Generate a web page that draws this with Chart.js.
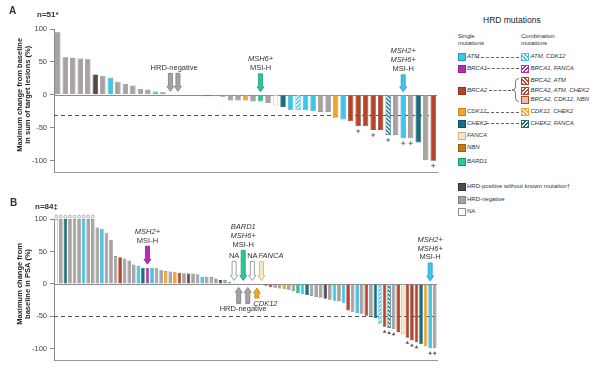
<!DOCTYPE html>
<html>
<head>
<meta charset="utf-8">
<script src="https://cdn.jsdelivr.net/npm/chart.js@4.4.0/dist/chart.umd.min.js"></script>
<style>
body{margin:0;background:#fff;font-family:'Liberation Sans',Arial,sans-serif;color:#333;}
#wrap{position:relative;width:605px;height:369px;overflow:hidden;}
canvas{position:absolute;left:0;}
.t{position:absolute;white-space:nowrap;line-height:1;}
.sw{position:absolute;width:6px;height:6px;border:0.8px solid #777;box-sizing:content-box;}
.dash{position:absolute;height:0;border-top:1px dashed #666;}
</style>
</head>
<body>
<div id="wrap">
  <canvas id="chartA" width="445" height="180" style="top:0"></canvas>
  <canvas id="chartB" width="445" height="178" style="top:190px"></canvas>
  <div class="t" style="left:9px;top:6px;font-weight:bold;font-size:10px">A</div>
  <div class="t" style="left:37px;top:11px;font-weight:bold;font-size:8px">n=51*</div>
  <div class="t" style="left:10px;top:198px;font-weight:bold;font-size:10px">B</div>
  <div class="t" style="left:35px;top:203px;font-weight:bold;font-size:8px">n=84‡</div>
  <div id="legend"></div>
</div>
<script>
// Panel A: maximum change in sum of target lesions (%)
var aValues = [95, 57, 56, 55, 54, 31, 29, 26, 20, 17,
  14, 9, 8, 5, 4, 0, 0, -1, -1.5, -2,
  -2, -2, -3, -8.5, -8.5, -8.5, -10, -10, -12.5, -16,
  -18.5, -22.5, -23, -23.5, -25, -26, -26, -35, -37.5, -40,
  -47.5, -47.5, -53.5, -53.5, -61, -61, -66, -66, -72.5, -99.5,
  -100];
var aTypes = ['neg', 'neg', 'neg', 'neg', 'neg', 'pos', 'neg', 'ATM', 'neg', 'neg',
  'neg', 'neg', 'neg', 'ATM', 'neg', 'neg', 'neg', 'pos', 'BRCA2', 'BARD1',
  'BRCA2', 'ATM', 'ATM', 'neg', 'neg', 'CDK12', 'neg', 'BARD1', 'neg', 'NA',
  'CHEK2', 'ATM', 'ATM+CDK12', 'ATM', 'ATM', 'neg', 'neg', 'CDK12', 'ATM', 'BRCA2',
  'BRCA2', 'BRCA2', 'BRCA2', 'BRCA2', 'CHEK2+FANCA', 'neg', 'ATM', 'neg', 'CHEK2', 'neg',
  'BRCA2'];
var aPlus = [40, 42, 44, 46, 47, 50];

// Panel B: maximum change in PSA (%)
var bValues = [100, 100, 100, 100, 100, 100, 100, 100, 100, 87,
  85, 79, 68, 43, 41, 39, 36, 30, 28, 25,
  25, 25, 24, 21, 20, 19, 18, 17, 16.5, 16,
  16, 15, 11, 11, 10.5, 8.5, 6, 6, 3, 0,
  0, 0, 0, 0, -1, -0.5, -3, -5, -6, -7,
  -8, -9, -11, -14, -16, -17, -18.5, -20, -21.5, -23,
  -24.5, -26, -27, -29, -41, -43, -45, -46, -49, -50,
  -53, -62, -66, -68, -70, -74, -77, -83, -87, -90,
  -93, -96, -99, -99];
var bTypes = ['NA', 'neg', 'CHEK2', 'neg', 'neg', 'neg', 'ATM', 'neg', 'neg', 'neg',
  'ATM', 'neg', 'neg', 'neg', 'BRCA2', 'neg', 'neg', 'neg', 'ATM', 'CHEK2',
  'BRCA1', 'ATM', 'neg', 'neg', 'CDK12', 'neg', 'CDK12', 'BRCA2', 'neg', 'pos',
  'neg', 'neg', 'ATM', 'neg', 'neg', 'neg', 'pos', 'neg', 'ATM', 'NA',
  'neg', 'BARD1', 'neg', 'NA', 'CDK12', 'FANCA', 'BRCA2', 'BRCA2', 'neg', 'neg',
  'CDK12', 'neg', 'neg', 'BARD1', 'ATM', 'CHEK2', 'neg', 'neg', 'neg', 'pos',
  'neg', 'ATM', 'neg', 'ATM', 'BRCA2', 'neg', 'ATM', 'neg', 'BRCA2', 'neg',
  'CHEK2', 'ATM+CDK12', 'BRCA2', 'CHEK2+FANCA', 'neg', 'BRCA2', 'FANCA', 'BRCA2', 'BRCA2', 'BRCA2',
  'CHEK2', 'CDK12', 'ATM', 'neg'];
var bTriangles = [72, 73, 74, 77, 78, 79, 82, 83];
var bCapped = [0, 1, 2, 3, 4, 5, 6, 7, 8];

var yTicks = [100, 50, 0, -50, -100];

var FONT = "'Liberation Sans', Arial, sans-serif";

// fill / edge colours
var palette = {
  ATM: ['#3dc6e9', '#2a9cbf'],
  BRCA1: ['#b62fb3', '#8d2089'],
  BRCA2: ['#b5442b', '#8e3320'],
  CDK12: ['#f3a528', '#c98414'],
  CHEK2: ['#17707f', '#0f5361'],
  FANCA: ['#f8e5c4', '#c9b48f'],
  NBN: ['#c27d15', '#98600e'],
  BARD1: ['#2bc79b', '#1a9a76'],
  pos: ['#4f4a4c', '#3a3637'],
  neg: ['#a8a2a3', '#827c7d'],
  NA: ['#ffffff', '#8c8c8c'],
  'BRCA2+CDK12+NBN': ['#e8bdb2', '#b5442b']
};
var hatchDefs = {
  'ATM+CDK12': ['#3dc6e9', 1],
  'BRCA1+FANCA': ['#b62fb3', -1],
  'BRCA2+ATM': ['#b5442b', 1],
  'BRCA2+ATM+CHEK2': ['#b5442b', -1],
  'CDK12+CHEK2': ['#f3a528', 1],
  'CHEK2+FANCA': ['#17707f', -1]
};

function hatch(color, dir) {
  var c = document.createElement('canvas');
  c.width = c.height = 4;
  var g = c.getContext('2d');
  g.fillStyle = '#fff';
  g.fillRect(0, 0, 4, 4);
  g.strokeStyle = color;
  g.lineWidth = 1.4;
  g.beginPath();
  if (dir > 0) {
    g.moveTo(0, 4); g.lineTo(4, 0);
    g.moveTo(-1, 1); g.lineTo(1, -1);
    g.moveTo(3, 5); g.lineTo(5, 3);
  } else {
    g.moveTo(0, 0); g.lineTo(4, 4);
    g.moveTo(-1, 3); g.lineTo(1, 5);
    g.moveTo(3, -1); g.lineTo(5, 1);
  }
  g.stroke();
  return g.createPattern(c, 'repeat');
}

function fillFor(k) {
  if (hatchDefs[k]) return hatch(hatchDefs[k][0], hatchDefs[k][1]);
  return palette[k][0];
}
function edgeFor(k) {
  if (hatchDefs[k]) return hatchDefs[k][0];
  return palette[k][1];
}

function arrow(ctx, x, tip, tail, fill, edge) {
  var s = tail < tip ? 1 : -1;
  var hw = 3.5, sw = 2, hl = 5;
  var neck = tip - s * hl;
  ctx.beginPath();
  ctx.moveTo(x - sw, tail);
  ctx.lineTo(x + sw, tail);
  ctx.lineTo(x + sw, neck);
  ctx.lineTo(x + hw, neck);
  ctx.lineTo(x, tip);
  ctx.lineTo(x - hw, neck);
  ctx.lineTo(x - sw, neck);
  ctx.closePath();
  ctx.fillStyle = fill;
  ctx.fill();
  ctx.strokeStyle = edge;
  ctx.lineWidth = 0.8;
  ctx.stroke();
}

var notesPlugin = {
  id: 'notes',
  beforeDatasetsDraw: function (chart, args, o) {
    var ctx = chart.ctx, a = chart.chartArea, y = chart.scales.y;
    var y0 = Math.round(y.getPixelForValue(0)) + 0.5;
    ctx.save();
    ctx.strokeStyle = '#8e8e8e';
    ctx.lineWidth = 1;
    ctx.beginPath(); ctx.moveTo(a.left, y0); ctx.lineTo(a.right, y0); ctx.stroke();
    var yr = Math.round(y.getPixelForValue(o.refLine)) + 0.5;
    ctx.setLineDash([4, 3]);
    ctx.strokeStyle = '#555';
    ctx.beginPath(); ctx.moveTo(a.left, yr); ctx.lineTo(a.right, yr); ctx.stroke();
    ctx.restore();
  },
  afterDatasetsDraw: function (chart, args, o) {
    var ctx = chart.ctx, y = chart.scales.y;
    var meta = chart.getDatasetMeta(0);
    var y0 = y.getPixelForValue(0);
    ctx.save();
    // "+" under some bars
    ctx.strokeStyle = '#555';
    ctx.lineWidth = 0.8;
    (o.plus || []).forEach(function (i) {
      var b = meta.data[i], yy = Math.max(b.y, b.base) + 5;
      ctx.beginPath();
      ctx.moveTo(b.x - 2, yy); ctx.lineTo(b.x + 2, yy);
      ctx.moveTo(b.x, yy - 2); ctx.lineTo(b.x, yy + 2);
      ctx.stroke();
    });
    // triangles under some bars
    ctx.fillStyle = '#555';
    (o.tri || []).forEach(function (i) {
      var b = meta.data[i], yy = Math.max(b.y, b.base) + 3;
      ctx.beginPath();
      ctx.moveTo(b.x, yy); ctx.lineTo(b.x + 1.8, yy + 3); ctx.lineTo(b.x - 1.8, yy + 3);
      ctx.closePath(); ctx.fill();
    });
    // capped bars
    ctx.strokeStyle = '#999';
    ctx.fillStyle = '#fff';
    (o.capped || []).forEach(function (i) {
      var b = meta.data[i];
      ctx.beginPath();
      ctx.arc(b.x, b.y - 2.5, 1.4, 0, Math.PI * 2);
      ctx.fill(); ctx.stroke();
    });
    // arrows and labels
    (o.notes || []).forEach(function (n) {
      var xs = [], ends = [];
      n.bars.forEach(function (i) {
        var b = meta.data[i], tip, tail;
        if (n.up) {
          tip = Math.max(b.y, b.base) + 3.5; tail = tip + n.len;
        } else {
          tip = Math.min(b.y, b.base) - 3.5; tail = tip - n.len;
        }
        arrow(ctx, b.x, tip, tail, n.fill, n.edge);
        xs.push(b.x); ends.push(tail);
      });
      var cx = xs.reduce(function (s, v) { return s + v; }, 0) / xs.length + (n.dx || 0);
      ctx.fillStyle = '#333';
      ctx.textAlign = 'center';
      ctx.textBaseline = 'middle';
      var N = n.lines.length;
      n.lines.forEach(function (ln, k) {
        ctx.font = (ln[1] ? 'italic ' : '') + '7.5px ' + FONT;
        var ty = n.up ? Math.max.apply(null, ends) + 6 + k * 9
                      : Math.min.apply(null, ends) - 5.5 - (N - 1 - k) * 9;
        ctx.fillText(ln[0], cx, ty);
      });
    });
    ctx.restore();
  },
  afterDraw: function (chart, args, o) {
    var ctx = chart.ctx, y0 = chart.scales.y.getPixelForValue(0);
    ctx.save();
    ctx.font = 'bold 7.5px ' + FONT;
    ctx.fillStyle = '#222';
    ctx.textAlign = 'center';
    ctx.textBaseline = 'middle';
    o.title.forEach(function (t, k) {
      ctx.save();
      ctx.translate(20 + k * 7.5, y0);
      ctx.rotate(-Math.PI / 2);
      ctx.fillText(t, 0, 0);
      ctx.restore();
    });
    ctx.restore();
  }
};

function makeChart(id, values, types, barPct, notesOpts) {
  var config = {
    type: 'bar',
    data: {
      labels: values.map(function (v, i) { return i + 1; }),
      datasets: [{
        data: values,
        backgroundColor: types.map(fillFor),
        borderColor: types.map(edgeFor),
        borderWidth: 0.7,
        barPercentage: barPct,
        categoryPercentage: 1
      }]
    },
    options: {
      responsive: false,
      animation: false,
      layout: { padding: { left: 0, right: 8, top: 29, bottom: notesOpts.bottomPad } },
      plugins: { legend: { display: false }, tooltip: { enabled: false }, notes: notesOpts },
      scales: {
        x: {
          grid: { display: false },
          ticks: { display: false },
          border: { display: true, color: '#999', width: 1 },
          afterFit: function (s) { s.height = 0; }
        },
        y: {
          min: -118,
          max: 100,
          afterBuildTicks: function (s) { s.ticks = yTicks.map(function (v) { return { value: v }; }); },
          afterFit: function (s) { s.width = 54; },
          grid: { drawOnChartArea: false, drawTicks: true, tickLength: 4, color: '#888' },
          border: { display: true, color: '#888', width: 1 },
          ticks: { padding: 3, color: '#444', font: { family: FONT, size: 7.5 } }
        }
      }
    },
    plugins: [notesPlugin]
  };
  return new Chart(document.getElementById(id), config);
}

var gray = palette.neg;

makeChart('chartA', aValues, aTypes, 0.72, {
  refLine: -30,
  bottomPad: 5,
  plus: aPlus,
  title: ['Maximum change from baseline', 'in sum of target lesions (%)'],
  notes: [
    { bars: [15, 16], len: 18, fill: gray[0], edge: gray[1], lines: [['HRD-negative', false]] },
    { bars: [27], len: 18, fill: palette.BARD1[0], edge: palette.BARD1[1], lines: [['MSH6+', true], ['MSI-H', false]] },
    { bars: [46], len: 17, fill: palette.ATM[0], edge: palette.ATM[1], lines: [['MSH2+', true], ['MSH6+', true], ['MSI-H', false]] }
  ]
});

makeChart('chartB', bValues, bTypes, 0.78, {
  refLine: -50,
  bottomPad: 3,
  tri: bTriangles,
  capped: bCapped,
  title: ['Maximum change from', 'baseline in PSA (%)'],
  notes: [
    { bars: [20], len: 18, fill: palette.BRCA1[0], edge: palette.BRCA1[1], lines: [['MSH2+', true], ['MSI-H', false]] },
    { bars: [39], len: 19, fill: '#fff', edge: '#888', lines: [['NA', false]] },
    { bars: [41], len: 30, fill: palette.BARD1[0], edge: palette.BARD1[1], lines: [['BARD1', true], ['MSH6+', true], ['MSI-H', false]] },
    { bars: [43], len: 19, fill: '#fff', edge: '#888', lines: [['NA', false]] },
    { bars: [45], len: 19, fill: palette.FANCA[0], edge: palette.FANCA[1], dx: 9.5, lines: [['FANCA', true]] },
    { bars: [40, 42], up: true, len: 16, fill: gray[0], edge: gray[1], lines: [['HRD-negative', false]] },
    { bars: [44], up: true, len: 10, fill: palette.CDK12[0], edge: palette.CDK12[1], dx: 8.5, lines: [['CDK12', true]] },
    { bars: [82], len: 18, fill: palette.ATM[0], edge: palette.ATM[1], lines: [['MSH2+', true], ['MSH6+', true], ['MSI-H', false]] }
  ]
});

// Legend (HTML)
var legendSingle = [
  ['ATM', 'ATM', 56.7, true],
  ['BRCA1', 'BRCA1', 68.3, true],
  ['BRCA2', 'BRCA2', 90, true],
  ['CDK12', 'CDK12', 111.7, true],
  ['CHEK2', 'CHEK2', 123.3, true],
  ['FANCA', 'FANCA', 135, true],
  ['NBN', 'NBN', 147.5, true],
  ['BARD1', 'BARD1', 161, true],
  ['pos', 'HRD-positive without known mutation†', 186.7, false],
  ['neg', 'HRD-negative', 199.5, false],
  ['NA', 'NA', 211.5, false]
];
var legendCombo = [
  ['ATM+CDK12', 'ATM, CDK12', 56.7],
  ['BRCA1+FANCA', 'BRCA1, FANCA', 68.3],
  ['BRCA2+ATM', 'BRCA2, ATM', 80],
  ['BRCA2+ATM+CHEK2', 'BRCA2, ATM, CHEK2', 90],
  ['BRCA2+CDK12+NBN', 'BRCA2, CDK12, NBN', 99.5],
  ['CDK12+CHEK2', 'CDK12, CHEK2', 111.7],
  ['CHEK2+FANCA', 'CHEK2, FANCA', 123.3]
];
var connectors = [[476, 519, 56.7], [487, 519, 68.3], [489, 511, 90], [486, 519, 111.7], [486, 519, 123.3]];

function cssFill(k) {
  if (hatchDefs[k]) {
    var c = hatchDefs[k][0], ang = hatchDefs[k][1] > 0 ? 45 : -45;
    return 'repeating-linear-gradient(' + ang + 'deg,' + c + ' 0 1.2px,#fff 1.2px 2.6px)';
  }
  return palette[k][0];
}

var lg = document.getElementById('legend');
function addText(txt, x, yc, size, style) {
  var d = document.createElement('div');
  d.className = 't';
  d.style.left = x + 'px';
  d.style.top = (yc - size * 0.55) + 'px';
  d.style.fontSize = size + 'px';
  if (style) d.style.cssText += style;
  d.textContent = txt;
  lg.appendChild(d);
}
function addSwatch(k, x, yc) {
  var s = document.createElement('div');
  s.className = 'sw';
  s.style.left = x + 'px';
  s.style.top = (yc - 3.5) + 'px';
  s.style.background = cssFill(k);
  s.style.borderColor = edgeFor(k);
  lg.appendChild(s);
}

addText('HRD mutations', 483, 20.5, 8.5, 'color:#222;');
addText('Single', 458, 36.5, 6, '');
addText('mutations', 458, 43, 6, '');
addText('Combination', 521, 36.5, 6, '');
addText('mutations', 521, 43, 6, '');

legendSingle.forEach(function (r) {
  addSwatch(r[0], 458, r[2]);
  addText(r[1], 467, r[2], 6, r[3] ? 'font-style:italic;' : '');
});
legendCombo.forEach(function (r) {
  addSwatch(r[0], 521, r[2]);
  addText(r[1], 530.5, r[2], 6, 'font-style:italic;');
});
connectors.forEach(function (c) {
  var d = document.createElement('div');
  d.className = 'dash';
  d.style.left = c[0] + 'px';
  d.style.width = (c[1] - c[0]) + 'px';
  d.style.top = Math.round(c[2]) + 'px';
  lg.appendChild(d);
});
var brace = document.createElementNS('http://www.w3.org/2000/svg', 'svg');
brace.setAttribute('width', '9');
brace.setAttribute('height', '26');
brace.style.cssText = 'position:absolute;left:511px;top:77px;';
brace.innerHTML = '<path d="M8 1.5 Q4.5 1.5 4.5 5 L4.5 10 Q4.5 13 1 13 Q4.5 13 4.5 16 L4.5 21 Q4.5 24.5 8 24.5" fill="none" stroke="#555" stroke-width="0.8"/>';
lg.appendChild(brace);
</script>
</body>
</html>
